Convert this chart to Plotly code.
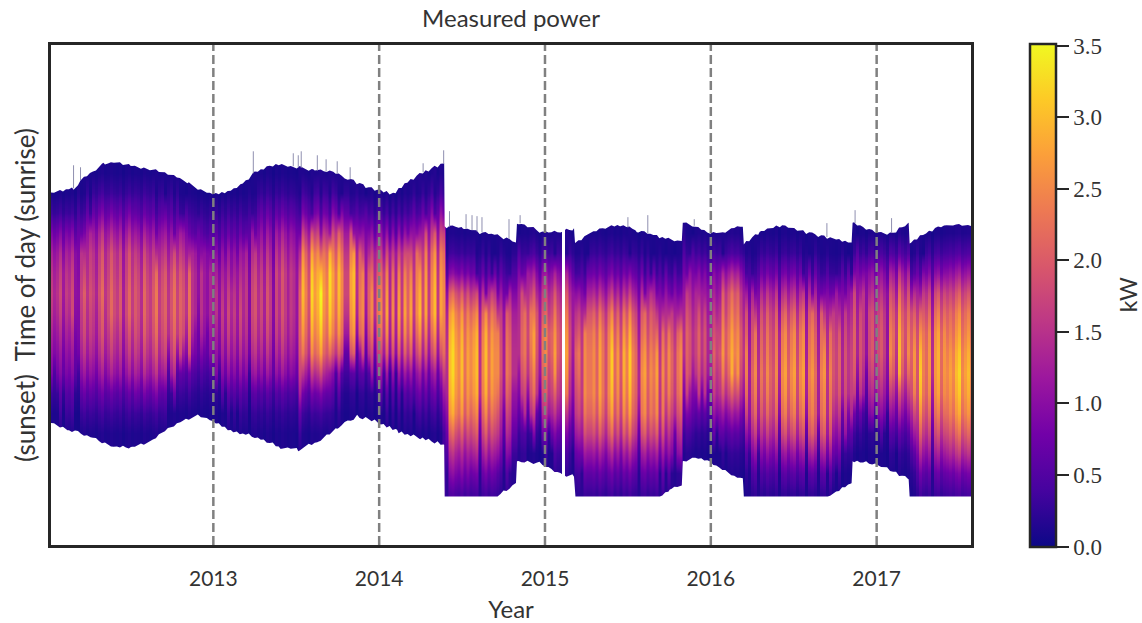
import numpy as np
import plotly.graph_objects as go

# y unit: time of day index (0 = sunrise side of the axis, 504 = sunset side); x unit: decimal year
DATA_X = [2012.012, 2017.578]
X_RANGE = [2012.021, 2017.569]
Y_RANGE = [502.5, 1.5]
Y_LIMIT = 504
years = [2013, 2014, 2015, 2016, 2017]
year_labels = ["2013", "2014", "2015", "2016", "2017"]
cbar_ticks = [0.0, 0.5, 1.0, 1.5, 2.0, 2.5, 3.0, 3.5]

sunrise_x = [2012.012,2012.157,2012.199,2012.259,2012.337,2012.422,2012.500,2012.602,2012.699,2012.783,2012.843,2012.904,2012.994,
 2013.084,2013.163,2013.241,2013.361,2013.482,2013.602,2013.723,2013.825,2013.904,2013.988,2014.084,2014.169,2014.265,2014.392,
 2014.395,2014.506,2014.608,2014.711,2014.825,2014.831,2014.988,2015.090,2015.175,2015.181,2015.271,2015.349,2015.452,2015.554,
 2015.675,2015.825,2015.831,2015.994,2016.072,2016.193,2016.199,2016.295,2016.416,2016.554,2016.699,2016.849,2016.855,2017.000,
 2017.096,2017.193,2017.199,2017.337,2017.422,2017.578]
sunrise_y = [150,145,137,130,121,119,122,126,129,134,139,145,150,
 149,142,130,121,123,127,129,136,142,147,150,139,129,120,
 183,185,189,192,198,179,189,189,185,200,190,185,182,187,
 193,199,178,189,190,182,200,189,182,188,194,199,179,189,
 190,180,200,186,182,183]

sunset_x = [2012.012,2012.120,2012.259,2012.398,2012.500,2012.602,2012.699,2012.801,2012.904,2012.994,2013.120,2013.265,2013.404,
 2013.512,2013.627,2013.747,2013.867,2013.988,2014.108,2014.247,2014.392,2014.395,2014.711,2014.825,2014.831,2014.910,2014.988,
 2015.108,2015.175,2015.181,2015.693,2015.753,2015.825,2015.831,2015.916,2015.994,2016.193,2016.199,2016.705,2016.849,2016.855,
 2017.000,2017.193,2017.199,2017.578]
sunset_y = [379,387,394,404,405,400,389,379,373,379,389,395,405,
 407,399,385,374,379,389,395,402,454,454,442,420,419,422,
 432,434,454,454,447,442,420,415,420,437,454,454,441,419,
 422,436,454,454]

# Isolated readings that stand above the sunrise edge: year, top of spike
spike_x = [2012.157,2012.199,2013.241,2013.482,2013.512,2013.530,2013.627,2013.680,2013.747,2013.825,2014.265,2014.389,
 2014.424,2014.524,2014.560,2014.590,2014.620,2014.783,2014.850,2015.500,2015.620,2015.900,2016.700,2016.870,2017.090]
spike_top = [122,124,108,110,112,108,112,116,118,124,120,107,168,171,172,173,174,176,172,174,172,176,180,167,175]

# Mean power (kW): 33 periods, 14 steps from sunrise to sunset
profiles = [
 [.1,.3,.8,1.2,1.4,1.5,1.5,1.4,1.2,1.0,.8,.5,.3,.12],
 [.1,.3,.7,1.2,1.5,1.6,1.7,1.6,1.5,1.3,1.0,.6,.3,.12],
 [.1,.28,.7,1.2,1.6,1.7,1.8,1.8,1.6,1.4,1.1,.6,.3,.12],
 [.1,.28,.6,1.1,1.5,1.7,1.8,1.8,1.7,1.5,1.2,.7,.3,.12],
 [.1,.28,.6,1.1,1.5,1.8,1.9,1.9,1.8,1.6,1.2,.6,.3,.12],
 [.1,.3,.6,1.0,1.3,1.5,1.5,1.5,1.3,1.1,.9,.5,.25,.12],
 [.1,.3,.6,1.0,1.2,1.4,1.5,1.5,1.4,1.2,.9,.5,.25,.12],
 [.1,.26,.6,1.0,1.3,1.5,1.6,1.6,1.5,1.3,1.0,.5,.25,.12],
 [.1,.26,.6,1.1,1.4,1.6,1.6,1.6,1.5,1.3,1.0,.5,.25,.12],
 [.12,.35,.8,1.6,2.3,2.6,2.7,2.6,2.4,2.1,1.4,.7,.3,.12],
 [.12,.35,.9,1.7,2.2,2.5,2.5,2.4,2.2,1.7,.9,.5,.22,.12],
 [.12,.35,.9,1.4,1.8,2.0,2.1,2.1,1.9,1.5,1.0,.5,.22,.12],
 [.12,.35,.9,1.5,2.0,2.2,2.3,2.3,2.1,1.7,1.0,.5,.25,.12],
 [.12,.35,.9,1.5,2.0,2.2,2.3,2.3,2.0,1.6,1.0,.6,.3,.12],
 [.1,.28,.8,1.7,2.2,2.4,2.5,2.5,2.4,2.2,1.7,1.2,.8,.4],
 [.1,.28,.7,1.5,2.1,2.4,2.5,2.5,2.4,2.1,1.7,1.2,.7,.35],
 [.1,.28,.7,1.3,1.8,2.0,2.1,2.1,1.9,1.6,1.3,.9,.45,.25],
 [.12,.35,1.0,1.5,1.8,2.1,2.2,2.1,1.9,1.7,1.3,.7,.3,.12],
 [.12,.35,1.0,1.5,1.8,2.0,2.1,2.0,1.8,1.6,1.2,.7,.35,.2],
 [.1,.28,.7,1.3,1.9,2.2,2.3,2.3,2.3,2.1,1.7,1.1,.6,.3],
 [.1,.28,.7,1.3,1.9,2.2,2.4,2.4,2.3,2.1,1.7,1.1,.6,.3],
 [.1,.26,.7,1.3,1.8,2.0,2.2,2.3,2.2,2.1,1.7,1.1,.6,.3],
 [.1,.28,.7,1.2,1.6,1.9,2.1,2.1,2.0,1.7,1.3,.9,.45,.2],
 [.12,.35,.9,1.2,1.5,1.7,1.9,1.9,1.7,1.5,1.0,.6,.25,.12],
 [.12,.35,1.1,1.7,1.9,2.1,2.2,2.2,2.0,1.6,1.0,.5,.22,.12],
 [.1,.28,.7,1.3,1.7,1.9,2.0,2.1,2.0,1.8,1.4,.9,.45,.22],
 [.1,.26,.7,1.3,1.8,2.1,2.2,2.3,2.2,2.0,1.6,1.0,.5,.22],
 [.1,.26,.7,1.3,1.8,2.0,2.1,2.2,2.1,2.0,1.7,1.1,.5,.22],
 [.1,.28,.8,1.3,1.6,1.8,1.9,1.9,1.8,1.5,1.1,.7,.3,.12],
 [.12,.4,1.0,1.4,1.7,1.8,1.8,1.8,1.6,1.3,.9,.45,.22,.12],
 [.12,.45,1.2,1.7,2.0,2.2,2.3,2.2,2.0,1.5,1.0,.5,.22,.12],
 [.1,.35,.9,1.6,2.0,2.3,2.4,2.4,2.3,2.0,1.6,1.1,.6,.3],
 [.12,.4,1.0,1.6,2.0,2.2,2.4,2.5,2.4,2.2,1.8,1.3,.7,.35],
]

# Day-to-day weather factor: one value per narrow column, None = no data
weather = [
 1.1,.9,1.0,1.2,.8,1.1,1.0,1.2,.7,.6,1.0,1.2,.9,1.1,1.0,.8,1.1,1.3,.9,1.0,
 1.2,1.0,.9,1.1,.7,1.0,1.2,.9,1.1,1.0,.8,1.2,1.0,.9,1.1,1.3,.9,1.0,1.1,.8,
 1.0,1.2,.9,1.1,1.0,.8,1.2,1.0,.9,.7,1.0,.8,.7,.9,.8,1.0,.7,1.1,.8,1.2,
 .9,1.1,.8,1.2,.9,1.0,.6,1.1,1.2,.9,1.1,.8,1.2,1.0,.6,1.1,.9,1.2,1.0,.8,
 1.0,.9,.7,1.3,1.1,.9,.7,1.2,1.0,1.1,1.3,1.0,.9,1.3,1.1,.9,1.2,1.0,.7,.7,
 1.1,1.2,.6,1.1,1.2,.6,1.0,1.2,.7,1.1,1.2,.8,1.2,.6,1.1,.6,1.2,.7,1.2,.9,
 1.2,.7,1.1,1.3,.8,1.2,.7,1.1,1.3,.7,1.2,1.0,.6,1.2,1.3,1.1,1.0,1.2,.9,1.1,
 1.0,1.1,1.2,.6,1.0,1.2,.9,1.1,1.0,1.2,.9,.6,1.1,1.0,.7,.7,.7,1.0,1.1,.8,
 1.1,1.3,.9,.6,1.1,1.2,.9,1.0,1.3,1.0,.9,None,1.3,.9,.6,1.0,1.1,.7,1.1,1.0,
 1.0,1.1,.9,1.2,1.0,.8,1.1,1.3,.9,1.1,.8,1.2,1.0,1.3,1.0,.9,.6,1.1,1.2,.9,
 1.1,1.0,1.2,.7,1.1,.9,1.2,1.0,.8,1.1,1.2,.7,1.0,.9,.7,.9,1.1,.8,1.0,.7,
 .7,1.1,.9,1.0,1.2,.9,1.1,1.3,1.1,1.2,.9,.7,1.1,.6,1.0,1.2,.7,1.1,.9,1.2,
 1.0,.9,1.2,.6,1.1,1.2,.9,1.1,1.2,.8,1.1,1.2,.6,1.1,1.2,1.0,.6,1.1,1.2,.7,
 1.1,1.0,.9,1.1,.7,1.0,.8,.9,1.1,.7,1.0,.9,.6,1.0,1.1,.8,1.0,1.1,.9,.6,
 1.1,1.0,.7,1.3,1.0,.8,1.1,.9,1.2,.8,1.3,1.0,.9,1.1,.6,1.1,1.2,.9,1.1,1.0,
 1.1,1.0,1.2,1.3,1.0,1.1,1.2,1.0,
]

# Build the matrix by looking each cell up in the tables above
SUB = 2
n_cols = len(weather)
n_periods, n_steps = len(profiles), len(profiles[0])
col_w = (DATA_X[1] - DATA_X[0]) / n_cols
col_x = DATA_X[0] + (np.arange(n_cols) + 0.5) * col_w
sub_x = DATA_X[0] + (np.arange(n_cols * SUB) + 0.5) * col_w / SUB
row_y = np.arange(10, Y_LIMIT, 20.0)
tops = np.interp(col_x, sunrise_x, sunrise_y)
bots = np.interp(col_x, sunset_x, sunset_y)
z = np.full((len(row_y), n_cols * SUB), np.nan)
for c in range(n_cols):
    if weather[c] is None:
        continue
    period = min(int((col_x[c] - DATA_X[0]) / (DATA_X[1] - DATA_X[0]) * n_periods), n_periods - 1)
    for r, y in enumerate(row_y):
        frac = (y - tops[c]) / (bots[c] - tops[c]) - (weather[c] - 1) * 0.08
        step = int(np.clip(frac * n_steps, 0, n_steps - 1))
        z[r, c * SUB:(c + 1) * SUB] = profiles[period][step] * weather[c]

# Daylight edge of each column: clear days start a little earlier and end a little later
fuzz = np.array([0.0 if w is None else (w - 1) * 5 for w in weather])
flat = max(sunset_y)


def column_fuzz(xs):
    idx = np.clip(((np.asarray(xs) - DATA_X[0]) / col_w).astype(int), 0, n_cols - 1)
    return fuzz[idx]


top_x = np.union1d(col_x, sunrise_x)
top_edge = np.interp(top_x, sunrise_x, sunrise_y) - column_fuzz(top_x)
bot_x = np.union1d(col_x, sunset_x)
bot_base = np.interp(bot_x, sunset_x, sunset_y)
bot_edge = np.where(bot_base >= flat, flat, np.minimum(bot_base + column_fuzz(bot_x), flat))

fig = go.Figure()
fig.add_trace(go.Heatmap(
    x=sub_x, y=row_y, z=z, zmin=0, zmax=3.515, zsmooth="best", colorscale="Plasma",
    hoverinfo="skip",
    colorbar=dict(
        thickness=26, len=504 / 501, lenmode="fraction", y=0.5, yanchor="middle",
        ypad=0, xpad=0, x=(1031 - 50.5) / 921, xanchor="left",
        outlinewidth=2.5, outlinecolor="#262626", tickmode="array", tickvals=cbar_ticks,
        ticktext=[f"{t:.1f}" for t in cbar_ticks], ticks="outside", ticklen=12, tickwidth=2,
        tickcolor="#262626", tickfont=dict(family="Liberation Serif", size=23, color="#333333"),
    ),
))
# White cover outside daylight hours, drawn from the sunrise and sunset edges
fig.add_trace(go.Scatter(x=top_x, y=top_edge, mode="lines", line=dict(width=0), fill="tozeroy",
                         fillcolor="white", hoverinfo="skip", showlegend=False))
fig.add_trace(go.Scatter(x=list(bot_x) + [DATA_X[1], DATA_X[0]], y=list(bot_edge) + [Y_LIMIT, Y_LIMIT],
                         mode="lines", line=dict(width=0), fill="toself", fillcolor="white",
                         hoverinfo="skip", showlegend=False))
sx, sy = [], []
base = np.interp(spike_x, sunrise_x, sunrise_y)
for a, b, t in zip(spike_x, base, spike_top):
    sx += [a, a, None]
    sy += [b, t, None]
fig.add_trace(go.Scatter(x=sx, y=sy, mode="lines", line=dict(width=1, color="#8f8fb0"),
                         hoverinfo="skip", showlegend=False))

for yr in years:
    fig.add_shape(type="line", x0=yr, x1=yr, y0=0, y1=1, xref="x", yref="paper", layer="above",
                  line=dict(color="#808080", width=2.5, dash="9px,4px"))

fig.add_annotation(text="kW", xref="paper", yref="paper", x=(1129 - 50.5) / 921, y=0.5, xanchor="center",
                   yanchor="middle", showarrow=False, textangle=-90,
                   font=dict(family="Lato", size=23, color="#333333"))

fig.update_layout(
    width=1142, height=623, margin=dict(l=50.5, r=170.5, t=44.5, b=77.5, autoexpand=False),
    paper_bgcolor="white", plot_bgcolor="white",
    title=dict(text="Measured power", x=511 / 1142, xanchor="center", y=1 - 19 / 623, yanchor="middle",
               font=dict(family="Lato", size=24, color="#333333")),
    xaxis=dict(range=X_RANGE, tickmode="array", tickvals=years, ticktext=year_labels, ticks="",
               ticklabelstandoff=13, showgrid=False, zeroline=False, showline=True, mirror=True,
               linewidth=2.5, linecolor="#262626", tickfont=dict(family="Lato", size=21, color="#333333"),
               title=dict(text="Year", standoff=13, font=dict(family="Lato", size=24, color="#333333"))),
    yaxis=dict(range=Y_RANGE, showticklabels=False, ticks="", showgrid=False, zeroline=False, showline=True,
               mirror=True, linewidth=2.5, linecolor="#262626",
               title=dict(text="(sunset)  Time of day (sunrise)", standoff=6,
                          font=dict(family="Lato", size=26, color="#333333"))),
)
fig.write_html("out.html", config=dict(displayModeBar=False), post_script="document.body.style.margin='0';")
